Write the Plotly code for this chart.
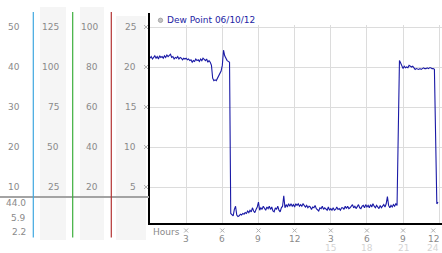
import plotly.graph_objects as go

W, H = 442, 253

# ---------------- data ----------------
sample_step_h = 0.1  # one reading every 6 minutes
dew_point = [
    21.1, 21.3, 21.0, 21.2, 21.4, 21.1, 21.3, 21.0, 21.4, 21.2,   # hour 0
    21.3, 21.1, 21.4, 21.2, 21.5, 21.3, 21.4, 21.6, 21.2, 21.3,   # hour 1
    21.0, 21.2, 21.1, 21.3, 21.0, 21.2, 21.1, 20.9, 21.1, 21.0,   # hour 2
    21.1, 20.9, 21.0, 20.8, 20.9, 20.6, 20.8, 20.7, 21.0, 20.8,   # hour 3
    20.9, 20.7, 21.0, 20.8, 21.1, 20.9, 20.8, 21.0, 20.6, 20.8,   # hour 4
    20.6, 20.2, 18.6, 18.3, 18.4, 18.3, 18.6, 19.0, 19.3, 19.5,   # hour 5
    20.2, 22.1, 21.4, 21.0, 20.8, 20.7, 20.6, 1.7, 1.5, 1.4,      # hour 6
    2.2, 2.6, 1.5, 1.3, 1.4, 1.6, 1.5, 1.7, 1.6, 1.8,             # hour 7
    1.7, 2.0, 1.8, 2.1, 1.9, 2.4, 2.0, 1.8, 2.2, 2.5,             # hour 8
    3.1, 2.1, 2.4, 2.2, 2.6, 2.3, 2.1, 2.5, 2.3, 2.6,             # hour 9
    2.2, 2.5, 2.0, 1.9, 2.4, 2.2, 2.6, 2.1, 1.9, 2.4,             # hour 10
    2.6, 3.9, 2.4, 2.8, 2.5, 2.9, 2.6, 2.9, 2.6, 2.8,             # hour 11
    2.5, 2.9, 2.7, 2.9, 2.6, 2.8, 2.6, 2.9, 2.6, 2.5,             # hour 12
    2.7, 2.4, 2.6, 2.5, 2.2, 2.5, 2.4, 2.7, 2.3, 2.2,             # hour 13
    2.0, 2.4, 2.3, 2.6, 2.2, 2.4, 2.2, 2.1, 2.5, 2.1,             # hour 14
    2.3, 2.1, 2.4, 2.1, 2.2, 2.5, 2.2, 2.3, 2.1, 2.4,             # hour 15
    2.4, 2.2, 2.6, 2.3, 2.6, 2.3, 2.4, 2.6, 2.8, 2.4,             # hour 16
    2.6, 2.3, 2.6, 2.8, 2.4, 2.3, 2.6, 2.7, 2.4, 2.8,             # hour 17
    2.5, 2.7, 2.4, 2.8, 2.5, 2.9, 2.6, 2.4, 2.7, 2.5,             # hour 18
    2.3, 2.7, 2.4, 2.6, 2.8, 2.5, 2.9, 3.8, 2.7, 2.4,             # hour 19
    2.7, 2.5, 2.8, 2.6, 2.9, 2.7, 11.3, 20.8, 20.5, 20.1,         # hour 20
    19.8, 20.1, 19.9, 20.0, 19.9, 20.2, 20.1, 20.0, 20.1, 19.9,   # hour 21
    19.7, 19.8, 19.7, 19.7, 19.8, 19.7, 19.8, 19.9, 19.8, 19.8,   # hour 22
    19.9, 19.8, 19.9, 19.9, 19.8, 19.8, 19.7, 11.1, 2.9, 3.1,     # hour 23
]
hours = [round(i * sample_step_h, 1) for i in range(len(dew_point))]

legend_label = "Dew Point 06/10/12"
y_ticks = [25, 20, 15, 10, 5]
col1_labels = ["50", "40", "30", "20", "10"]
col2_labels = ["125", "100", "75", "50", "25"]
col3_labels = ["100", "80", "60", "40", "20"]
col4_labels = ["25", "20", "15", "10", "5"]
bottom_values = ["44.0", "5.9", "2.2"]
x_ticks = [3, 6, 9, 12, 15, 18, 21, 24]
x_tick_text = ["3", "6", "9", "12", "3", "6", "9", "12"]
x_tick_text2 = ["", "", "", "", "15", "18", "21", "24"]

# ---------------- helpers (pixel -> paper) ----------------
def px(x):
    return x / W

def py(y):
    return 1 - y / H

GRAY = "#8a8a8a"
MARK = "#b0b0b0"
FONT = "DejaVu Sans"

fig = go.Figure()
fig.add_trace(go.Scatter(
    x=hours, y=dew_point, mode="lines",
    line=dict(color="#1a1aa6", width=1.1),
    showlegend=False, hoverinfo="skip",
))

shapes = []
# light gray column backgrounds
for x0, x1, y0 in [(40, 66, 7), (80, 104, 7), (116, 146, 16)]:
    shapes.append(dict(type="rect", xref="paper", yref="paper",
                       x0=px(x0), x1=px(x1), y0=py(240), y1=py(y0),
                       fillcolor="#f5f5f5", line=dict(width=0), layer="below"))
# gray separator line
shapes.append(dict(type="line", xref="paper", yref="paper",
                   x0=0, x1=px(149), y0=py(197), y1=py(197),
                   line=dict(color="#a3a3a3", width=2)))
# colored scale lines
for x, c in [(33.3, "#3fa8e0"), (72.7, "#3caf3c"), (111.3, "#b43434")]:
    shapes.append(dict(type="line", xref="paper", yref="paper",
                       x0=px(x), x1=px(x), y0=py(237.5), y1=py(12),
                       line=dict(color=c, width=1.2)))
# extension of left axis line above grid
shapes.append(dict(type="line", xref="paper", yref="paper",
                   x0=px(149), x1=px(149), y0=py(26), y1=py(13),
                   line=dict(color="black", width=2)))
# legend marker
shapes.append(dict(type="circle", xref="paper", yref="paper",
                   x0=px(158.3), x1=px(162.7), y0=py(22.5), y1=py(18.1),
                   fillcolor="#c4c4c4", line=dict(color="#9a9a9a", width=0.8)))

# small "x" tick marks on y axis
for v in y_ticks:
    for a, b in [(-2, 2), (2, -2)]:
        shapes.append(dict(type="line", xref="paper", x0=px(144), x1=px(148),
                           yref="y", ysizemode="pixel", yanchor=v, y0=a, y1=b,
                           line=dict(color=MARK, width=1)))
# small "x" tick marks on x axis
for v in x_ticks:
    s = -6 if v == x_ticks[-1] else 0
    for a, b in [(-2, 2), (2, -2)]:
        shapes.append(dict(type="line", xref="x", xsizemode="pixel", xanchor=v,
                           x0=s + a, x1=s + b, yref="paper", y0=py(228.5), y1=py(232.5),
                           line=dict(color=MARK, width=1)))

ann = []
def label(text, x, y, yref="paper", xanchor="right", color=GRAY, size=9, xref="paper", xshift=0):
    ann.append(dict(text=text, x=x, y=y, xref=xref, yref=yref, xanchor=xanchor,
                    yanchor="middle", showarrow=False, xshift=xshift,
                    font=dict(family=FONT, size=size, color=color)))

for i, v in enumerate(y_ticks):
    label(col1_labels[i], px(22), v, yref="y")
    label(col2_labels[i], px(61), v, yref="y")
    label(col3_labels[i], px(100), v, yref="y")
    label(col4_labels[i], px(138), v, yref="y")

for t, yy in zip(bottom_values, [203, 218, 232]):
    label(t, px(28), py(yy))

label("Hours", px(166), py(232), xanchor="center")
for i, v in enumerate(x_ticks):
    shift = -6 if v == x_ticks[-1] else 0
    label(x_tick_text[i], v, py(238.5), xref="x", xanchor="center", xshift=shift)
    if x_tick_text2[i]:
        label(x_tick_text2[i], v, py(247.5), xref="x", xanchor="center", color="#d4d4d4", xshift=shift)

label(legend_label, px(164.5), py(20), xanchor="left", color="#2424a4")

fig.update_layout(
    width=W, height=H,
    margin=dict(l=0, r=0, t=0, b=0),
    paper_bgcolor="white", plot_bgcolor="white",
    shapes=shapes, annotations=ann,
    xaxis=dict(domain=[px(150), 1], range=[0, 24.23],
               tickvals=x_ticks, showticklabels=False, ticks="",
               showgrid=True, gridcolor="#dcdcdc", gridwidth=1,
               zeroline=False, showline=True, linecolor="black", linewidth=2),
    yaxis=dict(domain=[py(223), py(25)], range=[0.5, 25.25],
               tickvals=y_ticks, showticklabels=False, ticks="",
               showgrid=True, gridcolor="#dcdcdc", gridwidth=1,
               zeroline=False, showline=True, linecolor="black", linewidth=2),
)

fig.write_html("out.html")
